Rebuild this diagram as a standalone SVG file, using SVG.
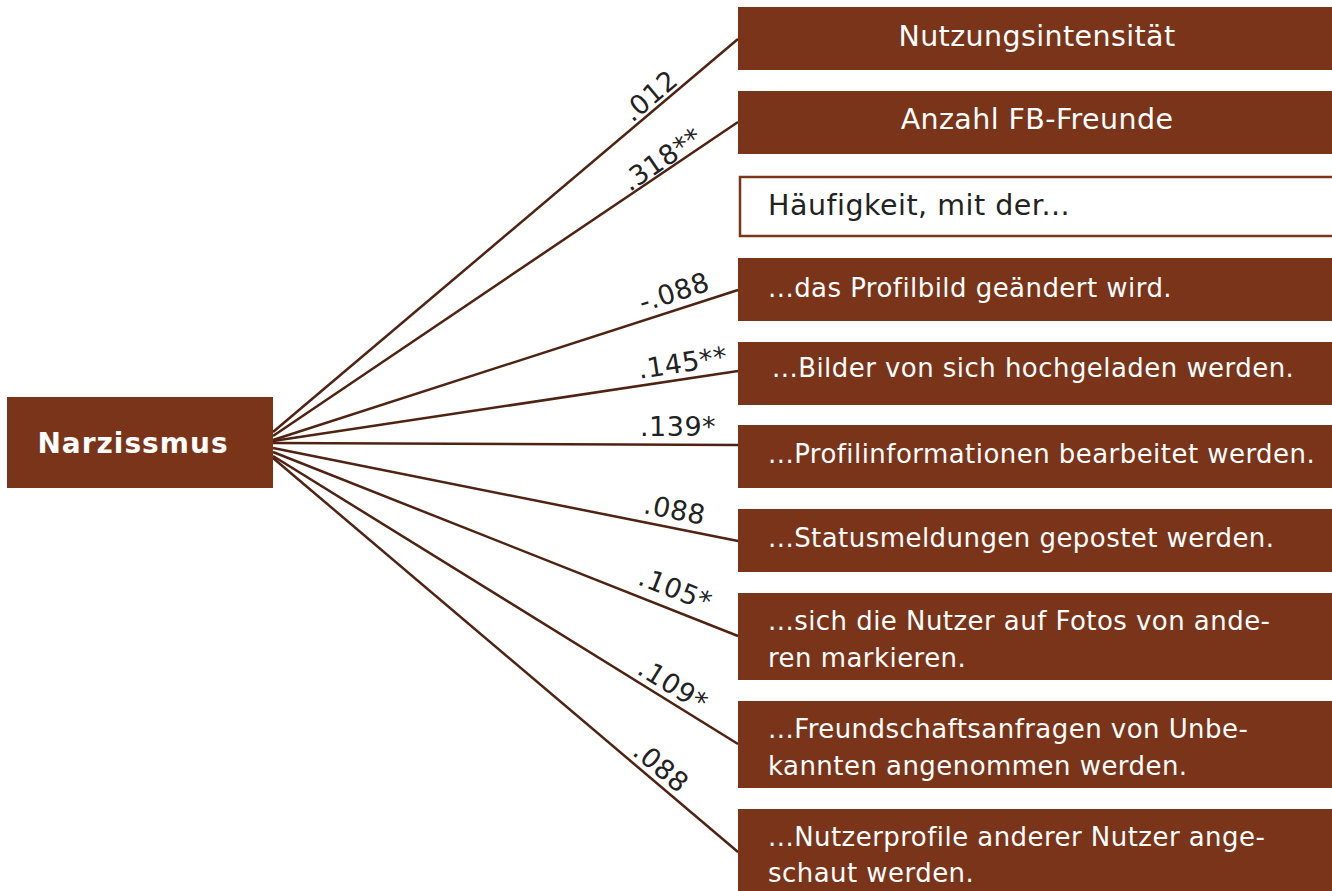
<svg xmlns="http://www.w3.org/2000/svg" width="1332" height="891" viewBox="0 0 1332 891">
<style>
.box{fill:#7a3419}
.obox{fill:#fff;stroke:#7a3419;stroke-width:2.5}
.t{font-family:"DejaVu Sans",Verdana,sans-serif;font-size:26px;letter-spacing:0.45px;fill:#fff}
.tb{font-family:"DejaVu Sans",Verdana,sans-serif;font-size:28.5px;letter-spacing:0.4px;fill:#fff}
.td{font-family:"DejaVu Sans",Verdana,sans-serif;font-size:28.5px;letter-spacing:0.5px;fill:#222}
.lbl{font-family:"DejaVu Sans",Verdana,sans-serif;font-size:27px;letter-spacing:0.5px;fill:#222;text-anchor:middle}
.c line{stroke:#4e2312;stroke-width:2.5}
</style>
<rect width="1332" height="891" fill="#fff"/>
<g class="c" id="connectors">
<line x1="273" y1="432" x2="738" y2="39"/>
<line x1="273" y1="436" x2="738" y2="122"/>
<line x1="273" y1="440" x2="738" y2="290"/>
<line x1="273" y1="441" x2="738" y2="371"/>
<line x1="273" y1="443" x2="738" y2="445"/>
<line x1="273" y1="448" x2="738" y2="541"/>
<line x1="273" y1="452" x2="738" y2="636"/>
<line x1="273" y1="456" x2="738" y2="744"/>
<line x1="273" y1="458" x2="738" y2="852"/>
</g>
<g id="labels">
<text class="lbl" transform="translate(656,103) rotate(-40.2)">.012</text>
<text class="lbl" transform="translate(667,167) rotate(-34)">.318**</text>
<text class="lbl" transform="translate(677,301) rotate(-17.9)">-.088</text>
<text class="lbl" transform="translate(684,372) rotate(-8.6)">.145**</text>
<text class="lbl" transform="translate(678,436)">.139*</text>
<text class="lbl" transform="translate(673,519) rotate(11.3)">.088</text>
<text class="lbl" transform="translate(672,598) rotate(21.6)">.105*</text>
<text class="lbl" transform="translate(668,693) rotate(31.8)">.109*</text>
<text class="lbl" transform="translate(655,774) rotate(40.3)">.088</text>
</g>
<g id="narzissmus">
<rect class="box" x="7" y="397" width="266" height="91"/>
<text class="tb" x="133" y="453" text-anchor="middle" font-weight="bold" style="font-size:28px;letter-spacing:1px">Narzissmus</text>
</g>
<g id="n1">
<rect class="box" x="738" y="7" width="594" height="63"/>
<text class="tb" x="1037" y="46" text-anchor="middle">Nutzungsintensität</text>
</g>
<g id="n2">
<rect class="box" x="738" y="91" width="594" height="63"/>
<text class="tb" x="1037" y="129" text-anchor="middle">Anzahl FB-Freunde</text>
</g>
<g id="n3">
<rect class="obox" x="740" y="177" width="594" height="59"/>
<text class="td" x="768" y="215">Häufigkeit, mit der...</text>
</g>
<g id="n4">
<rect class="box" x="738" y="258" width="594" height="63"/>
<text class="t" x="768" y="297">...das Profilbild geändert wird.</text>
</g>
<g id="n5">
<rect class="box" x="738" y="342" width="594" height="63"/>
<text class="t" x="772" y="377">...Bilder von sich hochgeladen werden.</text>
</g>
<g id="n6">
<rect class="box" x="738" y="425" width="594" height="63"/>
<text class="t" x="768" y="463">...Profilinformationen bearbeitet werden.</text>
</g>
<g id="n7">
<rect class="box" x="738" y="509" width="594" height="63"/>
<text class="t" x="768" y="547">...Statusmeldungen gepostet werden.</text>
</g>
<g id="n8">
<rect class="box" x="738" y="593" width="594" height="87"/>
<text class="t" x="768" y="630">...sich die Nutzer auf Fotos von ande-</text>
<text class="t" x="768" y="667">ren markieren.</text>
</g>
<g id="n9">
<rect class="box" x="738" y="701" width="594" height="87"/>
<text class="t" x="768" y="738">...Freundschaftsanfragen von Unbe-</text>
<text class="t" x="768" y="775">kannten angenommen werden.</text>
</g>
<g id="n10">
<rect class="box" x="738" y="809" width="594" height="82"/>
<text class="t" x="768" y="846">...Nutzerprofile anderer Nutzer ange-</text>
<text class="t" x="768" y="882">schaut werden.</text>
</g>
</svg>
